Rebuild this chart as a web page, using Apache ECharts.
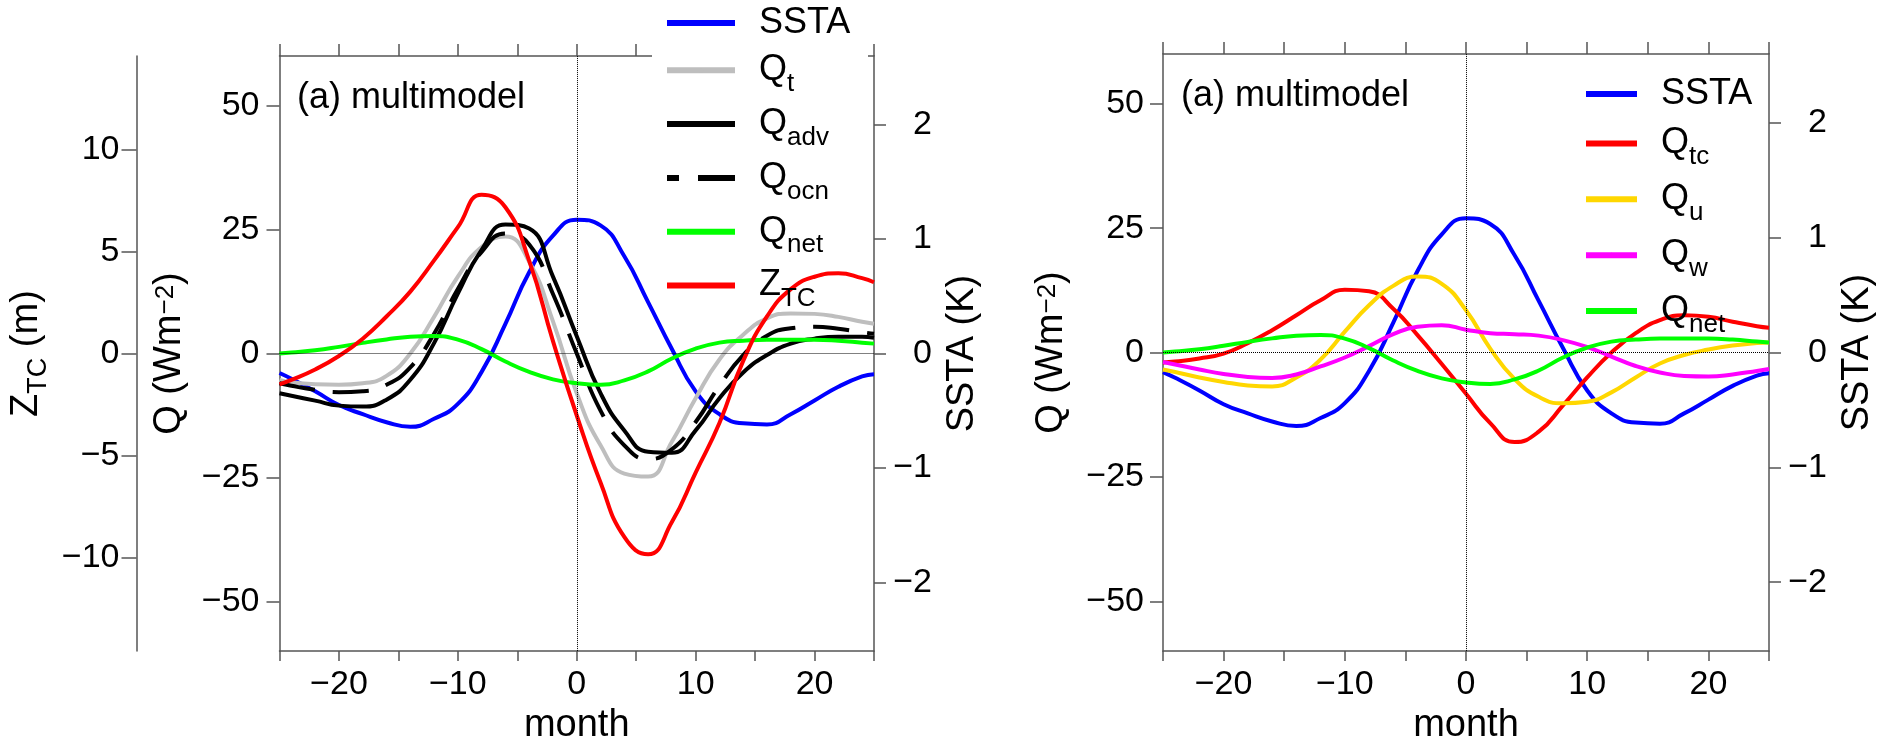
<!DOCTYPE html>
<html>
<head>
<meta charset="utf-8">
<title>multimodel heat budget composites</title>
<script src="https://cdn.jsdelivr.net/npm/echarts@6/dist/echarts.min.js"></script>
<style>
  html, body { margin: 0; padding: 0; background: #fff; }
  #chart { width: 1892px; height: 750px; }
</style>
</head>
<body>
<div id="chart"></div>
<script>
// lag in months
const months = [-25, -24, -22, -20, -18, -16, -14, -12, -10, -8, -6, -4, -2, 0, 2, 4, 6, 8, 10, 12, 14, 16, 18, 20, 22, 24, 25]

// SSTA in K (right axis of both panels)
const ssta = [-0.17, -0.22, -0.33, -0.45, -0.53, -0.60, -0.64, -0.57, -0.44, -0.16, 0.26, 0.71, 1.03, 1.17, 1.12, 0.85, 0.45, 0.04, -0.33, -0.53, -0.61, -0.62, -0.53, -0.41, -0.29, -0.20, -0.18]
// thermocline depth anomaly in m (far left axis)
const zTC = [-1.51, -1.29, -0.78, -0.12, 0.73, 1.82, 3.04, 4.57, 6.20, 7.79, 7.18, 4.55, 0.61, -3.04, -6.33, -9.00, -9.85, -8.27, -5.84, -3.41, -0.36, 1.82, 3.16, 3.77, 3.94, 3.70, 3.50]

// heat flux terms in W m-2
const qT = [-5.3, -5.8, -6.2, -6.3, -6.0, -4.5, 0.0, 7.4, 15.5, 21.5, 23.6, 18.5, 6.5, -8.0, -18.5, -24.2, -24.8, -17.8, -9.0, -1.2, 3.8, 7.1, 8.1, 8.0, 7.4, 6.4, 6.0]
const qAdv = [-8.0, -8.5, -9.5, -10.5, -10.7, -9.3, -5.3, 2.1, 12.1, 20.9, 26.0, 25.2, 15.5, 3.5, -8.0, -15.5, -19.8, -20.0, -15.5, -9.0, -3.8, -0.3, 2.0, 3.0, 3.4, 3.4, 3.2]
const qOcn = [-6.0, -6.5, -7.3, -7.8, -7.6, -6.3, -2.8, 4.0, 13.0, 20.5, 24.2, 22.0, 12.0, 0.0, -11.5, -18.5, -21.3, -19.3, -13.8, -6.5, -0.3, 3.6, 5.1, 5.4, 5.0, 4.3, 4.0]
const qNet = [0.0, 0.2, 0.65, 1.35, 2.15, 2.85, 3.4, 3.55, 2.8, 0.9, -1.6, -3.7, -5.2, -6.0, -6.3, -5.4, -3.6, -1.0, 1.0, 2.2, 2.6, 2.8, 2.8, 2.8, 2.6, 2.2, 2.0]
const qTc = [-2.0, -1.8, -1.2, -0.2, 1.9, 4.5, 7.5, 10.5, 12.6, 12.3, 8.8, 3.5, -2.3, -8.3, -14.2, -18.0, -15.9, -10.6, -5.0, 0.0, 3.9, 6.5, 7.5, 7.2, 6.2, 5.3, 5.0]
const qU = [-3.4, -3.9, -5.0, -5.9, -6.6, -6.8, -5.0, -1.4, 4.2, 9.5, 13.4, 15.3, 13.8, 8.5, 0.8, -5.3, -8.9, -10.2, -9.9, -8.0, -5.0, -2.2, -0.5, 0.6, 1.4, 1.9, 2.0]
const qW = [-1.9, -2.4, -3.4, -4.3, -4.9, -5.1, -4.4, -2.8, -1.0, 1.3, 3.7, 5.2, 5.5, 4.6, 3.9, 3.7, 3.4, 2.5, 1.1, -0.8, -2.7, -4.0, -4.7, -4.8, -4.4, -3.7, -3.3]

// tick values
const qTicks = [-50, -25, 0, 25, 50]
const sstaTicks = [-2, -1, 0, 1, 2]
const zTicks = [-10, -5, 0, 5, 10]

const FONT = "'Liberation Sans', Arial, Helvetica, sans-serif"
const AXIS = { color: '#555', width: 1.5 }

const minus = v => (v < 0 ? '\u2212' + Math.abs(v) : String(v))
const pairs = arr => months.map((m, i) => [m, arr[i]])

const legendText = {
  SSTA: '{m|SSTA}',
  Qt: '{m|Q}{s|t}',
  Qadv: '{m|Q}{s|adv}',
  Qocn: '{m|Q}{s|ocn}',
  Qnet: '{m|Q}{s|net}',
  ZTC: '{m|Z}{s|TC}',
  Qtc: '{m|Q}{s|tc}',
  Qu: '{m|Q}{s|u}',
  Qw: '{m|Q}{s|w}'
}

const legendTextStyle = {
  color: '#000',
  fontFamily: FONT,
  fontSize: 36,
  lineHeight: 40,
  padding: [0, 0, 0, 19],
  rich: {
    m: { fontSize: 36, lineHeight: 40, fontFamily: FONT, color: '#000' },
    s: { fontSize: 26, lineHeight: 40, fontFamily: FONT, color: '#000', padding: [27, 0, 0, 0] }
  }
}

const nameRich = {
  m: { fontSize: 38, lineHeight: 44, fontFamily: FONT, color: '#000' },
  p: { fontSize: 26, lineHeight: 44, fontFamily: FONT, color: '#000', padding: [0, 0, 8, 0] },
  s: { fontSize: 27, lineHeight: 44, fontFamily: FONT, color: '#000', padding: [24, 0, 0, 0] }
}

function xAxisBottom (gridIndex) {
  return {
    type: 'value', gridIndex, position: 'bottom', min: -25, max: 25, interval: 5,
    name: 'month', nameLocation: 'middle', nameGap: 54,
    nameTextStyle: { fontSize: 38, color: '#000', fontFamily: FONT },
    axisLine: { show: true, onZero: false, lineStyle: AXIS },
    axisTick: { show: true, length: 10, lineStyle: AXIS },
    axisLabel: {
      fontSize: 34, color: '#000', fontFamily: FONT, margin: 17,
      formatter: v => (v % 10 === 0 ? minus(v) : '')
    },
    splitLine: { show: false }
  }
}

function xAxisTop (gridIndex) {
  return {
    type: 'value', gridIndex, position: 'top', min: -25, max: 25, interval: 5,
    axisLine: { show: true, onZero: false, lineStyle: AXIS },
    axisTick: { show: true, length: 12, lineStyle: AXIS },
    axisLabel: { show: false },
    splitLine: { show: false }
  }
}

function yAxis (gridIndex, position, min, max, ticks, opts) {
  return Object.assign({
    type: 'value', gridIndex, position, min, max,
    axisLine: { show: true, onZero: false, lineStyle: AXIS },
    axisTick: { show: true, length: 13, lineStyle: AXIS, customValues: ticks },
    axisLabel: { fontSize: 34, color: '#000', fontFamily: FONT, margin: 20, customValues: ticks, formatter: minus },
    splitLine: { show: false },
    nameLocation: 'middle',
    nameRotate: 90,
    nameTextStyle: { fontSize: 38, color: '#000', fontFamily: FONT, rich: nameRich }
  }, opts)
}

function sstaAxis (gridIndex) {
  const ax = yAxis(gridIndex, 'right', -2.6, 2.6, sstaTicks, { name: '{m|SSTA (K)}', nameGap: 67 })
  ax.axisTick.length = 12
  ax.axisLabel.margin = 58
  ax.axisLabel.align = 'right'
  return ax
}

function line (name, data, color, xAxisIndex, yAxisIndex, extra) {
  return Object.assign({
    name, type: 'line', xAxisIndex, yAxisIndex,
    data: pairs(data),
    symbol: 'none', showSymbol: false, smooth: 0.5,
    lineStyle: { color, width: 4 },
    itemStyle: { color },
    animation: false
  }, extra)
}

const zeroLines = {
  silent: true,
  symbol: ['none', 'none'],
  label: { show: false },
  lineStyle: { type: 'dotted', color: '#000', width: 1 },
  data: [{ yAxis: 0 }, { xAxis: 0 }]
}

const chart = echarts.init(document.getElementById('chart'), null, { renderer: 'canvas' })

const option = {
  backgroundColor: '#fff',
  animation: false,
  textStyle: { fontFamily: FONT },
  title: [
    { text: '(a) multimodel', left: 297, top: 80, padding: 0, textStyle: { fontSize: 36, fontWeight: 'normal', color: '#000', fontFamily: FONT } },
    { text: '(a) multimodel', left: 1181, top: 78, padding: 0, textStyle: { fontSize: 36, fontWeight: 'normal', color: '#000', fontFamily: FONT } }
  ],
  grid: [
    { left: 279, top: 56, width: 595, height: 599 },
    { left: 1163, top: 54, width: 606, height: 609 }
  ],
  graphic: [
    // white box behind the left legend, it hides the frame top
    { type: 'rect', left: 652, top: 0, shape: { width: 216, height: 252 }, style: { fill: '#fff' }, z: 3 }
  ],
  legend: [
    {
      orient: 'vertical', left: 664, top: 3, padding: 0,
      itemWidth: 68, itemHeight: 6, itemGap: 0.8,
      lineStyle: { width: 6 },
      formatter: n => legendText[n],
      textStyle: legendTextStyle,
      data: ['SSTA', 'Qt', 'Qadv', { name: 'Qocn', lineStyle: { width: 6, type: [37, 19], dashOffset: 25 } }, 'Qnet', 'ZTC']
    },
    {
      orient: 'vertical', left: 1583, top: 74, padding: 0,
      itemWidth: 51, itemHeight: 6, itemGap: 2.9,
      lineStyle: { width: 6 },
      formatter: n => legendText[n],
      textStyle: legendTextStyle,
      data: ['SSTA', 'Qtc', 'Qu', 'Qw', 'Qnet']
    }
  ],
  xAxis: [xAxisBottom(0), xAxisTop(0), xAxisBottom(1), xAxisTop(1)],
  yAxis: [
    yAxis(0, 'left', -60, 60, qTicks, { name: '{m|Q (Wm}{p|\u22122}{m|)}', nameGap: 88 }),
    sstaAxis(0),
    yAxis(0, 'left', -14.6, 14.6, zTicks, { name: '{m|Z}{s|TC}{m| (m)}', nameGap: 88, offset: 143 }),
    yAxis(1, 'left', -60, 60, qTicks, { name: '{m|Q (Wm}{p|\u22122}{m|)}', nameGap: 89 }),
    sstaAxis(1)
  ],
  series: [
    line('SSTA', ssta, '#0000ff', 0, 1, { markLine: zeroLines }),
    line('Qt', qT, '#bebebe', 0, 0),
    line('Qadv', qAdv, '#000000', 0, 0),
    line('Qocn', qOcn, '#000000', 0, 0, { lineStyle: { color: '#000000', width: 4, type: [36, 18] } }),
    line('Qnet', qNet, '#00ff00', 0, 0),
    line('ZTC', zTC, '#ff0000', 0, 2),

    line('SSTA', ssta, '#0000ff', 2, 4, { markLine: zeroLines }),
    line('Qtc', qTc, '#ff0000', 2, 3),
    line('Qu', qU, '#ffd700', 2, 3),
    line('Qw', qW, '#ff00ff', 2, 3),
    line('Qnet', qNet, '#00ff00', 2, 3)
  ]
}

// z-tc axis ticks a bit longer and labels closer
option.yAxis[2].axisTick.length = 15
option.yAxis[2].axisLabel.margin = 17
option.yAxis[3].axisLabel.margin = 19

chart.setOption(option)
</script>
</body>
</html>
